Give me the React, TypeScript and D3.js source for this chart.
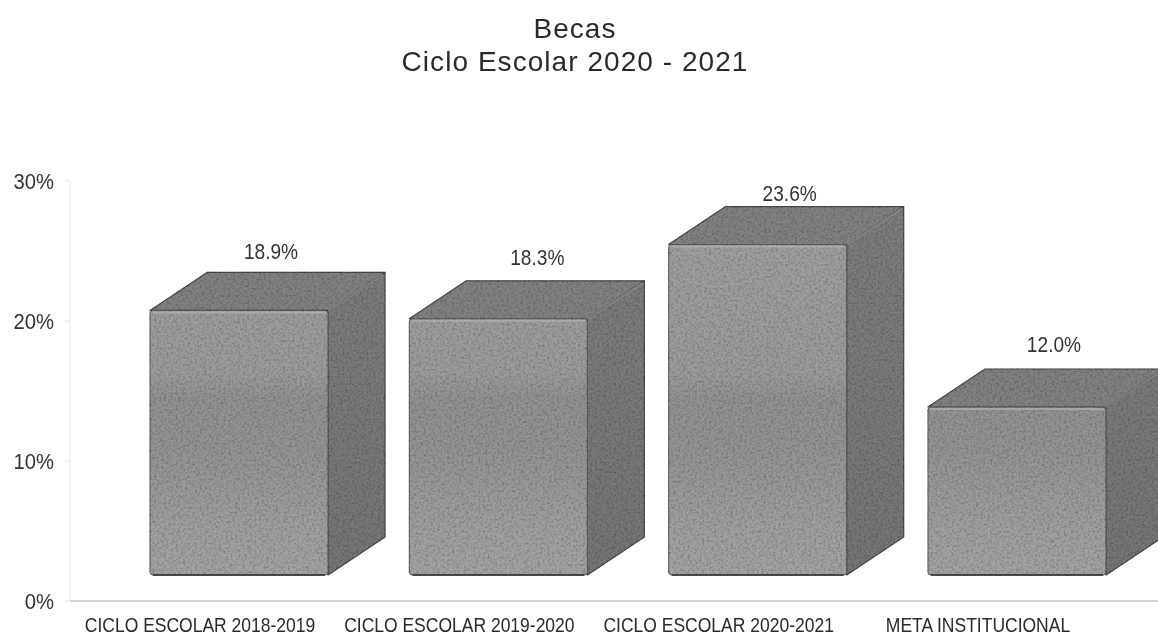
import React from "react";
import * as d3 from "d3";

const titleLines = ["Becas", "Ciclo Escolar 2020 - 2021"];
const categories = ["CICLO ESCOLAR 2018-2019", "CICLO ESCOLAR 2019-2020", "CICLO ESCOLAR 2020-2021", "META INSTITUCIONAL"];
const values = [18.9, 18.3, 23.6, 12.0];
const ticks = [0, 10, 20, 30];

const W = 1158, H = 640;
const depthX = 57, depthY = 38;
// hand-placed data-label offsets of the original chart
const labelDx = [0, 7, 0, 5];
const labelDy = [0, -3, 7, -4];

const x = d3.scaleBand<string>().domain(categories).range([150, 1106]).paddingInner(0.3135).paddingOuter(0);
// front plane of the 3D bars, and the axis plane in front of it
const yFront = d3.scaleLinear().domain([0, 30]).range([575, 155]);
const yAxis = d3.scaleLinear().domain([0, 30]).range([601, 181]);

const font = "'Liberation Sans', Arial, sans-serif";

function Squeezed({ x: px, y, sx, size, anchor, fill, children }: any) {
  return (
    <text transform={`translate(${px},${y}) scale(${sx},1)`} textAnchor={anchor} fontFamily={font} fontSize={size} fill={fill}>
      {children}
    </text>
  );
}

export default function App() {
  const bw = x.bandwidth();
  return (
    <svg width={W} height={H} viewBox={`0 0 ${W} ${H}`} style={{ position: "absolute", left: 0, top: 0, background: "#fff" }}>
      <defs>
        <filter id="grain" x="-2%" y="-2%" width="104%" height="104%">
          <feTurbulence type="fractalNoise" baseFrequency="0.42" numOctaves={3} seed={4} result="n" />
          <feColorMatrix in="n" type="matrix" values="0 0 0 0 0  0 0 0 0 0  0 0 0 0 0  1 0 0 0 -0.4" result="dark" />
          <feComposite in="dark" in2="SourceAlpha" operator="in" result="d2" />
          <feMerge>
            <feMergeNode in="SourceGraphic" />
            <feMergeNode in="d2" />
          </feMerge>
        </filter>
        <filter id="soft"><feGaussianBlur stdDeviation="0.4" /></filter>
        <linearGradient id="front" gradientUnits="userSpaceOnUse" x1="0" y1="240" x2="0" y2="575">
          <stop offset="0" stopColor="#a0a0a0" />
          <stop offset="0.4" stopColor="#9c9c9c" />
          <stop offset="0.47" stopColor="#939393" />
          <stop offset="0.62" stopColor="#949494" />
          <stop offset="0.85" stopColor="#a0a0a0" />
          <stop offset="1" stopColor="#a4a4a4" />
        </linearGradient>
        <linearGradient id="side" gradientUnits="userSpaceOnUse" x1="0" y1="210" x2="0" y2="575">
          <stop offset="0" stopColor="#7e7e7e" />
          <stop offset="1" stopColor="#767676" />
        </linearGradient>
      </defs>

      <g filter="url(#soft)">
        {titleLines.map((t, i) => (
          <text key={t} x={575} y={38 + i * 33} textAnchor="middle" fontFamily={font} fontSize={28} letterSpacing={1.05} fill="#2a2a2a">{t}</text>
        ))}

        {/* axis */}
        <line x1={70} x2={1158} y1={yAxis(0)} y2={yAxis(0)} stroke="#a8a8a8" />
        <line x1={70} x2={70} y1={yAxis(30)} y2={yAxis(0)} stroke="#e8e8e8" />
        {ticks.map((t) => (
          <line key={t} x1={65} x2={70} y1={yAxis(t)} y2={yAxis(t)} stroke="#e4e4e4" />
        ))}
        {ticks.map((t) => (
          <Squeezed key={t} x={54} y={yAxis(t) + 8} sx={0.92} size={22} anchor="end" fill="#333">{t}%</Squeezed>
        ))}

        {/* bars */}
        {categories.map((c, i) => {
          const x0 = x(c)!, x1 = x0 + bw, yb = yFront(0), yt = yFront(values[i]);
          return (
            <g key={c}>
              <g filter="url(#grain)">
                <path d={`M${x0},${yt} L${x0 + depthX},${yt - depthY} H${x1 + depthX} L${x1},${yt} Z`} fill="#828282" stroke="#4a4a4a" strokeWidth={1.2} strokeLinejoin="round" />
                <path d={`M${x1},${yt} L${x1 + depthX},${yt - depthY} V${yb - depthY} L${x1},${yb} Z`} fill="url(#side)" stroke="#4a4a4a" strokeWidth={1.2} strokeLinejoin="round" />
                <rect x={x0} y={yt} width={bw} height={yb - yt} rx={3} fill="url(#front)" stroke="#5a5a5a" strokeWidth={1} />
              </g>
              <line x1={x0 + 2} x2={x1 - 2} y1={yt + 2} y2={yt + 2} stroke="#b4b4b4" strokeWidth={2} opacity={0.7} />
              <line x1={x1} x2={x1 + depthX - 2} y1={yt} y2={yt - depthY + 2} stroke="#9a9a9a" strokeWidth={2} opacity={0.6} />
              <line x1={x0 + 3} x2={x1 - 3} y1={yb} y2={yb} stroke="#2e2e2e" strokeWidth={1.6} />
              <Squeezed x={x0 + bw / 2 + 32 + labelDx[i]} y={yt - depthY - 13 + labelDy[i]} sx={0.87} size={22} anchor="middle" fill="#333">{values[i].toFixed(1)}%</Squeezed>
            </g>
          );
        })}

        {/* category labels */}
        {categories.map((c, i) => (
          <Squeezed key={c} x={x(c)! + bw / 2 - 39} y={632} sx={0.875} size={20} anchor="middle" fill="#2a2a2a">{c}</Squeezed>
        ))}
      </g>
    </svg>
  );
}
